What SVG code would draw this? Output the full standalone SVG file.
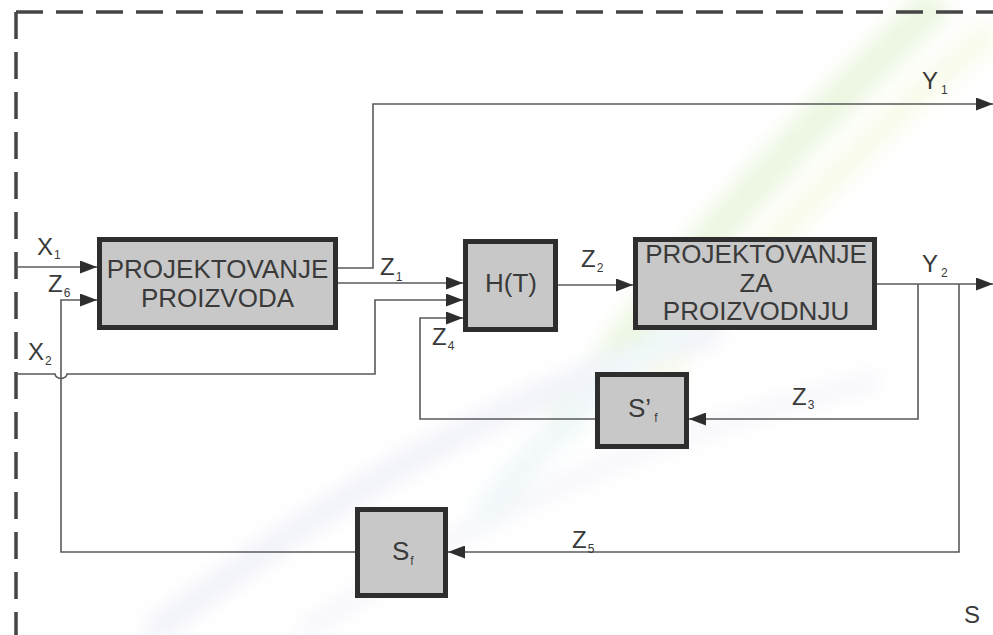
<svg xmlns="http://www.w3.org/2000/svg" width="993" height="635" viewBox="0 0 993 635">
<defs>
<style>
.box{fill:#c8c8c8;stroke:#2e2e2e;stroke-width:5}
.ln{fill:none;stroke:#5a5a5a;stroke-width:1.6}
.t{font-family:"Liberation Sans",Arial,sans-serif;fill:#3a3a3a}
.big{font-size:26px}
.lab{font-size:24px}
.sub{font-size:12px}
.border{fill:none;stroke:#454545;stroke-width:3.5;stroke-dasharray:27 13}
</style>
<marker id="ah" markerWidth="17" markerHeight="13" refX="17" refY="6.5" orient="auto" markerUnits="userSpaceOnUse">
<path d="M0,0 L17,6.5 L0,13 Z" fill="#2e2e2e"/>
</marker>
<filter id="bl"><feGaussianBlur stdDeviation="10"/></filter>
</defs>
<rect width="993" height="635" fill="#ffffff"/>
<g id="background" opacity="0.3" filter="url(#bl)">
<path d="M560,430 C650,300 770,160 940,0" fill="none" stroke="#bfe39a" stroke-width="36"/>
<path d="M650,390 C740,270 860,140 993,30" fill="none" stroke="#e9f0b8" stroke-width="26"/>
<path d="M150,635 C300,520 480,400 720,330" fill="none" stroke="#d2d5ee" stroke-width="26"/>
<path d="M300,635 C450,530 620,440 880,380" fill="none" stroke="#e0e2f0" stroke-width="18"/>
<path d="M480,520 C540,440 610,380 690,320" fill="none" stroke="#cfe6ee" stroke-width="26"/>
</g>
<g id="border">
<path class="border" d="M16,12 H993"/>
<path class="border" d="M16,12 V635"/>
</g>
<g id="connectors">
<path class="ln" d="M16,267 H97" marker-end="url(#ah)"/>
<path class="ln" d="M355,552 H61 V300 H97" marker-end="url(#ah)"/>
<path class="ln" d="M16,374 H55 A6,4.5 0 0 0 67,374 H375 V300 H463" marker-end="url(#ah)"/>
<path class="ln" d="M338,268 H373 V104 H993" marker-end="url(#ah)"/>
<path class="ln" d="M338,283 H463" marker-end="url(#ah)"/>
<path class="ln" d="M595,419 H420 V318 H463" marker-end="url(#ah)"/>
<path class="ln" d="M558,285 H633" marker-end="url(#ah)"/>
<path class="ln" d="M877,284 H993" marker-end="url(#ah)"/>
<path class="ln" d="M918,284 V419 H689" marker-end="url(#ah)"/>
<path class="ln" d="M959,284 V552 H448" marker-end="url(#ah)"/>
</g>
<g id="labels">
<text class="t lab" x="37" y="255">X<tspan class="sub" dx="1" dy="4">1</tspan></text>
<text class="t lab" x="48" y="292">Z<tspan class="sub" dx="1" dy="5">6</tspan></text>
<text class="t lab" x="28" y="360">X<tspan class="sub" dx="1" dy="5">2</tspan></text>
<text class="t lab" x="380" y="275">Z<tspan class="sub" dx="1" dy="6">1</tspan></text>
<text class="t lab" x="581" y="267">Z<tspan class="sub" dx="1" dy="5">2</tspan></text>
<text class="t lab" x="432" y="345">Z<tspan class="sub" dx="1" dy="5">4</tspan></text>
<text class="t lab" x="792" y="405">Z<tspan class="sub" dx="1" dy="4">3</tspan></text>
<text class="t lab" x="572" y="548">Z<tspan class="sub" dx="1" dy="5">5</tspan></text>
<text class="t lab" x="922" y="89">Y<tspan class="sub" dx="3" dy="5">1</tspan></text>
<text class="t lab" x="922" y="272">Y<tspan class="sub" dx="3" dy="5">2</tspan></text>
<text class="t lab" x="964" y="623">S</text>
</g>
<g id="node-projektovanje-proizvoda">
<rect class="box" x="99.5" y="239.5" width="236" height="88"/>
<text class="t big" x="217.5" y="278" text-anchor="middle">PROJEKTOVANJE</text>
<text class="t big" x="217.5" y="307" text-anchor="middle">PROIZVODA</text>
</g>
<g id="node-ht">
<rect class="box" x="465.5" y="241.5" width="90" height="88"/>
<text class="t big" x="511" y="292" text-anchor="middle">H(T)</text>
</g>
<g id="node-projektovanje-za-proizvodnju">
<rect class="box" x="635.5" y="239.5" width="239" height="88"/>
<text class="t big" x="756" y="263" text-anchor="middle">PROJEKTOVANJE</text>
<text class="t big" x="756" y="292" text-anchor="middle">ZA</text>
<text class="t big" x="756" y="320" text-anchor="middle">PROIZVODNJU</text>
</g>
<g id="node-sf-prime">
<rect class="box" x="597.5" y="374.5" width="89" height="72"/>
<text class="t big" x="628" y="417">S’<tspan class="sub" dx="3" dy="5">f</tspan></text>
</g>
<g id="node-sf">
<rect class="box" x="357.5" y="509.5" width="88" height="86"/>
<text class="t big" x="392" y="560">S<tspan class="sub" dx="1" dy="5">f</tspan></text>
</g>
</svg>
